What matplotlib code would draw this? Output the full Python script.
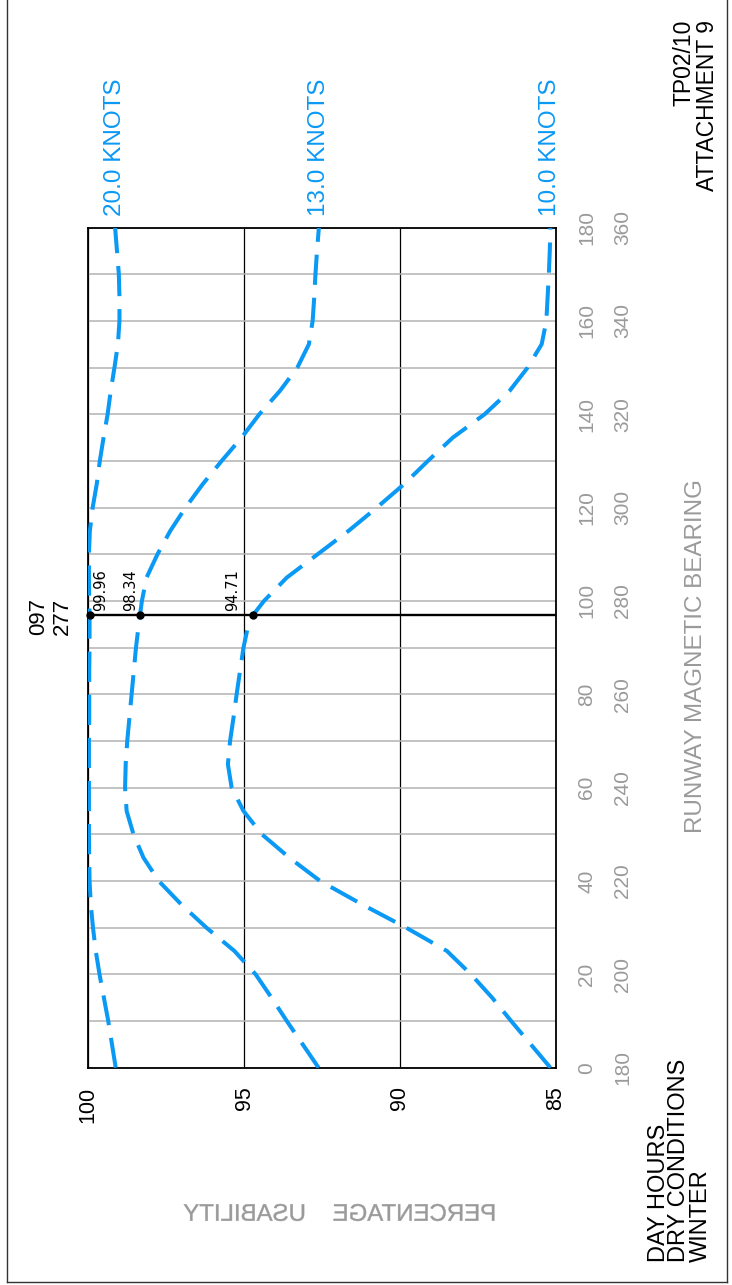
import matplotlib
matplotlib.use("Agg")
import matplotlib.pyplot as plt
import matplotlib.transforms as mtransforms
from matplotlib.textpath import TextPath
from matplotlib.font_manager import FontProperties
from matplotlib.patches import PathPatch
from matplotlib.lines import Line2D

plt.rcParams['font.family'] = ['Liberation Sans', 'DejaVu Sans']

# runway bearing (deg) sampled along the curves
bearing = [0, 5, 10, 15, 20, 25, 30, 35, 40, 45, 50, 55, 60, 65, 70, 75, 80, 85, 90, 95,
           97, 100, 105, 110, 115, 120, 125, 130, 135, 140, 145, 150, 155, 160, 165, 170, 175, 180]

# percentage usability for each crosswind limit
knots20 = [99.12, 99.24, 99.36, 99.50, 99.64, 99.76, 99.85, 99.92, 99.96, 99.97, 99.98, 99.98,
           99.98, 99.98, 99.98, 99.97, 99.97, 99.97, 99.96, 99.96, 99.96, 99.97, 99.98, 99.98,
           99.95, 99.86, 99.73, 99.63, 99.51, 99.38, 99.28, 99.16, 99.05, 99.00, 99.00, 99.02,
           99.08, 99.14]
knots13 = [92.61, 93.12, 93.63, 94.12, 94.63, 95.31, 96.21, 97.02, 97.74, 98.23, 98.55, 98.77,
           98.82, 98.80, 98.75, 98.68, 98.61, 98.54, 98.47, 98.38, 98.34, 98.28, 98.13, 97.78,
           97.37, 96.88, 96.33, 95.72, 95.08, 94.51, 93.85, 93.29, 92.92, 92.80, 92.75, 92.71,
           92.66, 92.60]
knots10 = [85.17, 85.80, 86.43, 87.04, 87.72, 88.49, 89.80, 91.22, 92.56, 93.55, 94.43, 95.02,
           95.40, 95.52, 95.45, 95.34, 95.24, 95.13, 95.02, 94.86, 94.71, 94.36, 93.63, 92.64,
           91.65, 90.74, 89.87, 89.10, 88.30, 87.28, 86.48, 85.90, 85.45, 85.30, 85.26, 85.22,
           85.19, 85.17]
curve_labels = ["20.0 KNOTS", "13.0 KNOTS", "10.0 KNOTS"]

runway = 97
runway_vals = [99.96, 98.34, 94.71]
runway_text = ["99.96", "98.34", "94.71"]

pct_ticks = [100, 95, 90, 85]
brg_ticks = list(range(0, 181, 20))
brg_ticks2 = list(range(180, 361, 20))

blue = '#0a99f5'
grey = '#9a9a9a'
W, H = 732, 1285

fig = plt.figure(figsize=(W / 100, H / 100), dpi=100)
L, R, T, B = 88.3, 555.7, 227.5, 1067.7
ax = fig.add_axes([L / W, 1 - B / H, (R - L) / W, (B - T) / H])

# chart is drawn turned on its side: usability across, bearing up
ax.set_xlim(100, 85)
ax.set_ylim(0, 180)

ax.set_xticks(pct_ticks)
ax.set_xticklabels([str(p) for p in pct_ticks], rotation=90, fontsize=15.5)
ax.tick_params(axis='x', length=0, pad=13.5, colors='black')

ax.yaxis.tick_right()
ax.set_yticks(brg_ticks)
ax.set_yticks(range(0, 181, 10), minor=True)
ax.set_yticklabels([str(b) for b in brg_ticks], rotation=90, va='center', ha='left', fontsize=15)
ax.tick_params(axis='y', which='both', length=0, pad=15.5, labelcolor=grey)

sec = ax.secondary_yaxis('right', functions=(lambda b: b + 180, lambda b: b - 180))
sec.set_yticks(brg_ticks2)
sec.set_yticklabels([str(b) for b in brg_ticks2], rotation=90, va='center', ha='left', fontsize=15)
sec.tick_params(axis='y', length=0, pad=41.5, labelcolor=grey)
sec.spines['right'].set_visible(False)

ax.grid(axis='y', which='both', color='#b3b3b3', lw=1.1, zorder=1)
ax.grid(axis='x', which='major', color='black', lw=0.9, zorder=1)
for s in ax.spines.values():
    s.set_color('black')
    s.set_linewidth(1.3)

for vals, lab in zip([knots20, knots13, knots10], curve_labels):
    ax.plot(vals, bearing, color=blue, lw=2.9, dashes=(7.5, 3.2), solid_capstyle='butt',
            dash_capstyle='butt', solid_joinstyle='round', zorder=3)
    ax.annotate(lab, (vals[-1], 180), xytext=(0, 11), textcoords='offset pixels',
                rotation=90, ha='center', va='bottom', color=blue, fontsize=17.5,
                annotation_clip=False)

ax.axhline(runway, color='black', lw=1.7, zorder=4)
ax.plot(runway_vals, [runway] * 3, 'o', color='black', ms=5, zorder=5, clip_on=False)
label_pos = [99.60, 98.63, 95.36]
for xv, t in zip(label_pos, runway_text):
    ax.annotate(t, (xv, runway), xytext=(0, 4), textcoords='offset pixels',
                rotation=90, ha='center', va='bottom', fontsize=10.5,
                family=['Liberation Sans Narrow', 'DejaVu Sans'], annotation_clip=False)

def px(x, y):
    return x / W, 1 - y / H

fig.text(*px(38.5, 616), "097", rotation=90, ha='center', va='center', fontsize=16)
fig.text(*px(62, 616), "277", rotation=90, ha='center', va='center', fontsize=16)

fig.text(*px(684, 20), "TP02/10", rotation=90, ha='center', va='top', fontsize=16.5)
fig.text(*px(707, 20), "ATTACHMENT 9", rotation=90, ha='center', va='top', fontsize=16.5)

fig.text(*px(659, 1262), "DAY HOURS", rotation=90, ha='center', va='bottom', fontsize=17)
fig.text(*px(679, 1262), "DRY CONDITIONS", rotation=90, ha='center', va='bottom', fontsize=17)
fig.text(*px(701, 1262), "WINTER", rotation=90, ha='center', va='bottom', fontsize=17)

fig.text(*px(696, 656), "RUNWAY MAGNETIC BEARING", rotation=90, ha='center', va='center',
         fontsize=17.4, color=grey)

# the usability title is printed mirrored in the original sheet
fp = FontProperties(family='Liberation Sans')
tp = TextPath((0, 0), "PERCENTAGE    USABILITY", prop=fp, size=24)
bb = tp.get_extents()
cx, cy = (bb.x0 + bb.x1) / 2, (bb.y0 + bb.y1) / 2
tr = (mtransforms.Affine2D().translate(-cx, -cy).scale(-1, 1).translate(339, H - 1212.5)
      .scale(1 / 100) + fig.dpi_scale_trans)
fig.patches.append(PathPatch(tp, transform=tr, facecolor=grey, edgecolor=grey, lw=0.3))

# sheet border
for xs, ys in [([6.5, 6.5], [0, 1281.5]), ([6.5, 727], [1281.5, 1281.5]), ([727, 727], [0, 1281.5])]:
    fig.add_artist(Line2D([x / W for x in xs], [1 - y / H for y in ys], color='#333333', lw=1))

fig.savefig("out.png", dpi=100)
